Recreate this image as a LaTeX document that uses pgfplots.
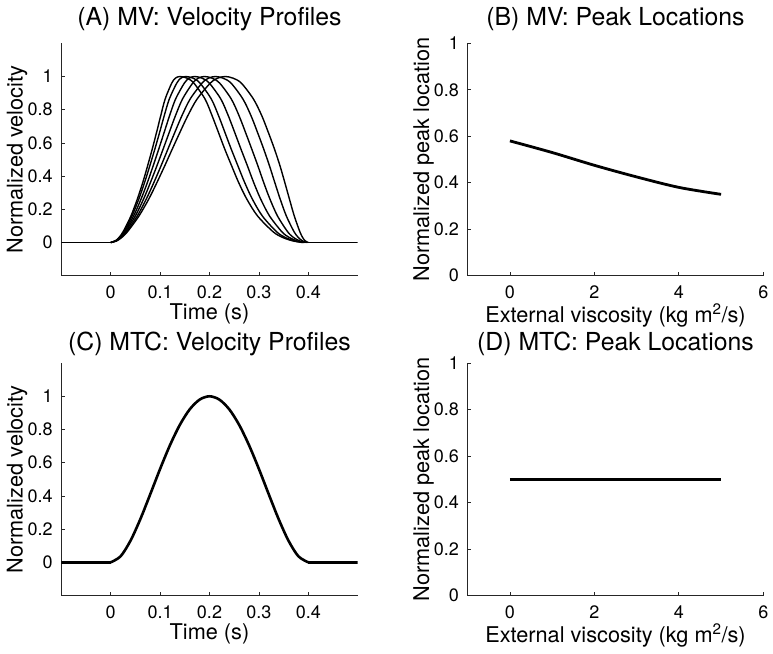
\documentclass[border=0pt]{standalone}
\usepackage{fontspec}
\setmainfont{TeX Gyre Heros}
\usepackage{pgfplots}
\usepackage{pgfplotstable}
\pgfplotsset{compat=1.18}
\newcommand{\tickfont}{\fontsize{18bp}{22bp}\selectfont}
\newcommand{\lblfont}{\fontsize{21.7bp}{26bp}\selectfont}
\newcommand{\ttlfont}{\fontsize{24.8bp}{30bp}\selectfont}
% MV velocity profiles: normalized velocity v and time (s) for each viscosity 0..5
\pgfplotstableread{
v      t0     t1     t2     t3     t4     t5
0      0      0      0      0      0      0
0.01   0.0123 0.0117 0.0111 0.0105 0.0100 0.0096
0.03   0.0222 0.0210 0.0197 0.0186 0.0175 0.0168
0.064  0.0337 0.0318 0.0297 0.0278 0.0261 0.0250
0.16   0.0573 0.0538 0.0499 0.0463 0.0431 0.0410
0.264  0.0775 0.0724 0.0669 0.0618 0.0572 0.0542
0.364  0.0940 0.0878 0.0808 0.0746 0.0689 0.0652
0.464  0.1097 0.1022 0.0938 0.0862 0.0794 0.0749
0.564  0.1248 0.1160 0.1063 0.0974 0.0895 0.0842
0.664  0.1402 0.1299 0.1186 0.1083 0.0991 0.0929
0.764  0.1561 0.1442 0.1311 0.1192 0.1084 0.1013
0.864  0.1748 0.1608 0.1453 0.1313 0.1186 0.1102
0.96   0.2016 0.1847 0.1659 0.1490 0.1337 0.1235
0.99   0.2165 0.1980 0.1774 0.1589 0.1421 0.1310
1      0.2320 0.2120 0.1900 0.1700 0.1520 0.1400
0.99   0.2476 0.2274 0.2051 0.1850 0.1668 0.1547
0.96   0.2645 0.2437 0.2206 0.1997 0.1809 0.1684
0.864  0.2890 0.2677 0.2442 0.2230 0.2037 0.1910
0.764  0.3058 0.2840 0.2598 0.2380 0.2183 0.2052
0.664  0.3190 0.2971 0.2728 0.2509 0.2311 0.2180
0.564  0.3314 0.3096 0.2854 0.2635 0.2438 0.2307
0.464  0.3425 0.3212 0.2977 0.2765 0.2572 0.2445
0.364  0.3522 0.3319 0.3094 0.2891 0.2708 0.2586
0.264  0.3616 0.3428 0.3220 0.3032 0.2863 0.2750
0.16   0.3716 0.3555 0.3376 0.3215 0.3069 0.2972
0.064  0.3830 0.3713 0.3583 0.3466 0.3360 0.3290
0.03   0.3886 0.3799 0.3702 0.3615 0.3536 0.3484
0.01   0.3936 0.3881 0.3820 0.3764 0.3714 0.3681
0      0.4000 0.3974 0.3945 0.3919 0.3896 0.3880
}\mvtable
\pgfplotsset{
  mlstyle/.style={
    scale only axis,
    anchor=south west,
    axis x line*=bottom, axis y line*=left,
    axis line style={-, black!85, line width=0.7bp},
    tick align=inside,
    major tick length=3.5bp,
    tick style={black!85, line width=0.7bp},
    /pgf/number format/assume math mode=true,
    tick label style={font=\tickfont},
    xticklabel style={anchor=base, yshift=-22.6bp},
    yticklabel style={anchor=east, inner xsep=0pt, xshift=-8.5bp},
    every axis y label/.style={at={(axis description cs:-0.1302,0.5)}, rotate=90, anchor=base, font=\lblfont},
  },
}
\begin{document}
\begin{tikzpicture}
\path[use as bounding box] (0,0) rectangle (773bp,654bp);

% (A)
\begin{axis}[mlstyle,
  at={(61.3bp,378.3bp)}, width=296.4bp, height=232.4bp,
  xmin=-0.1, xmax=0.5, ymin=-0.2, ymax=1.2,
  xtick={0,0.1,0.2,0.3,0.4}, ytick={0,0.2,0.4,0.6,0.8,1},
  every axis title/.style={at={(axis description cs:0.5,1)}, anchor=base, yshift=17.3bp, font=\ttlfont},
  every axis x label/.style={at={(axis description cs:0.5,0)}, anchor=base, yshift=-44bp, font=\lblfont},
  title={(A) MV: Velocity Profiles},
  xlabel={Time (s)}, ylabel={Normalized velocity},
]
\addplot[black, line width=1.4bp] coordinates {(-0.1,0)(0,0)};
\addplot[black, line width=1.4bp] coordinates {(0.388,0)(0.5,0)};
\addplot[black, line width=1.4bp, smooth] table[x=t0, y=v] {\mvtable};
\addplot[black, line width=1.4bp, smooth] table[x=t1, y=v] {\mvtable};
\addplot[black, line width=1.4bp, smooth] table[x=t2, y=v] {\mvtable};
\addplot[black, line width=1.4bp, smooth] table[x=t3, y=v] {\mvtable};
\addplot[black, line width=1.4bp, smooth] table[x=t4, y=v] {\mvtable};
\addplot[black, line width=1.4bp, smooth] table[x=t5, y=v] {\mvtable};
\end{axis}

% (B)
\begin{axis}[mlstyle,
  at={(467.7bp,378.3bp)}, width=295.6bp, height=232.4bp,
  xmin=-1, xmax=6, ymin=0, ymax=1,
  xtick={0,2,4,6}, ytick={0,0.2,0.4,0.6,0.8,1},
  every axis title/.style={at={(axis description cs:0.5,1)}, anchor=base, yshift=17.3bp, font=\ttlfont},
  every axis x label/.style={at={(axis description cs:0.5,0)}, anchor=base, yshift=-46.5bp, font=\lblfont},
  title={(B) MV: Peak Locations},
  xlabel={External viscosity (kg m\textsuperscript{2}/s)}, ylabel={Normalized peak location},
]
\addplot[black, line width=2.8bp, smooth] coordinates {(0,0.58)(1,0.53)(2,0.475)(3,0.425)(4,0.38)(5,0.35)};
\end{axis}

% (C)
\begin{axis}[mlstyle,
  at={(61.3bp,58.5bp)}, width=296.4bp, height=232.4bp,
  xmin=-0.1, xmax=0.5, ymin=-0.2, ymax=1.2,
  xtick={0,0.1,0.2,0.3,0.4}, ytick={0,0.2,0.4,0.6,0.8,1},
  every axis title/.style={at={(axis description cs:0.5,1)}, anchor=base, yshift=12.3bp, font=\ttlfont},
  every axis x label/.style={at={(axis description cs:0.5,0)}, anchor=base, yshift=-44bp, font=\lblfont},
  title={(C) MTC: Velocity Profiles},
  xlabel={Time (s)}, ylabel={Normalized velocity},
]
\addplot[black, line width=2.6bp] coordinates {(-0.1,0)(0,0)};
\addplot[black, line width=2.6bp] coordinates {(0.4,0)(0.5,0)};
\addplot[black, line width=2.6bp, smooth] coordinates {(0,0)(0.02,0.0361)(0.04,0.1296)(0.06,0.2601)(0.08,0.4096)(0.10,0.5625)(0.12,0.7056)(0.14,0.8281)(0.16,0.9216)(0.18,0.9801)(0.20,1)(0.22,0.9801)(0.24,0.9216)(0.26,0.8281)(0.28,0.7056)(0.30,0.5625)(0.32,0.4096)(0.34,0.2601)(0.36,0.1296)(0.38,0.0361)(0.40,0)};
\end{axis}

% (D)
\begin{axis}[mlstyle,
  at={(467.7bp,58.5bp)}, width=295.6bp, height=232.4bp,
  xmin=-1, xmax=6, ymin=0, ymax=1,
  xtick={0,2,4,6}, ytick={0,0.2,0.4,0.6,0.8,1},
  every axis title/.style={at={(axis description cs:0.5,1)}, anchor=base, yshift=12.3bp, font=\ttlfont},
  every axis x label/.style={at={(axis description cs:0.5,0)}, anchor=base, yshift=-46.5bp, font=\lblfont},
  title={(D) MTC: Peak Locations},
  xlabel={External viscosity (kg m\textsuperscript{2}/s)}, ylabel={Normalized peak location},
]
\addplot[black, line width=2.8bp] coordinates {(0,0.5)(1,0.5)(2,0.5)(3,0.5)(4,0.5)(5,0.5)};
\end{axis}
\end{tikzpicture}
\end{document}
